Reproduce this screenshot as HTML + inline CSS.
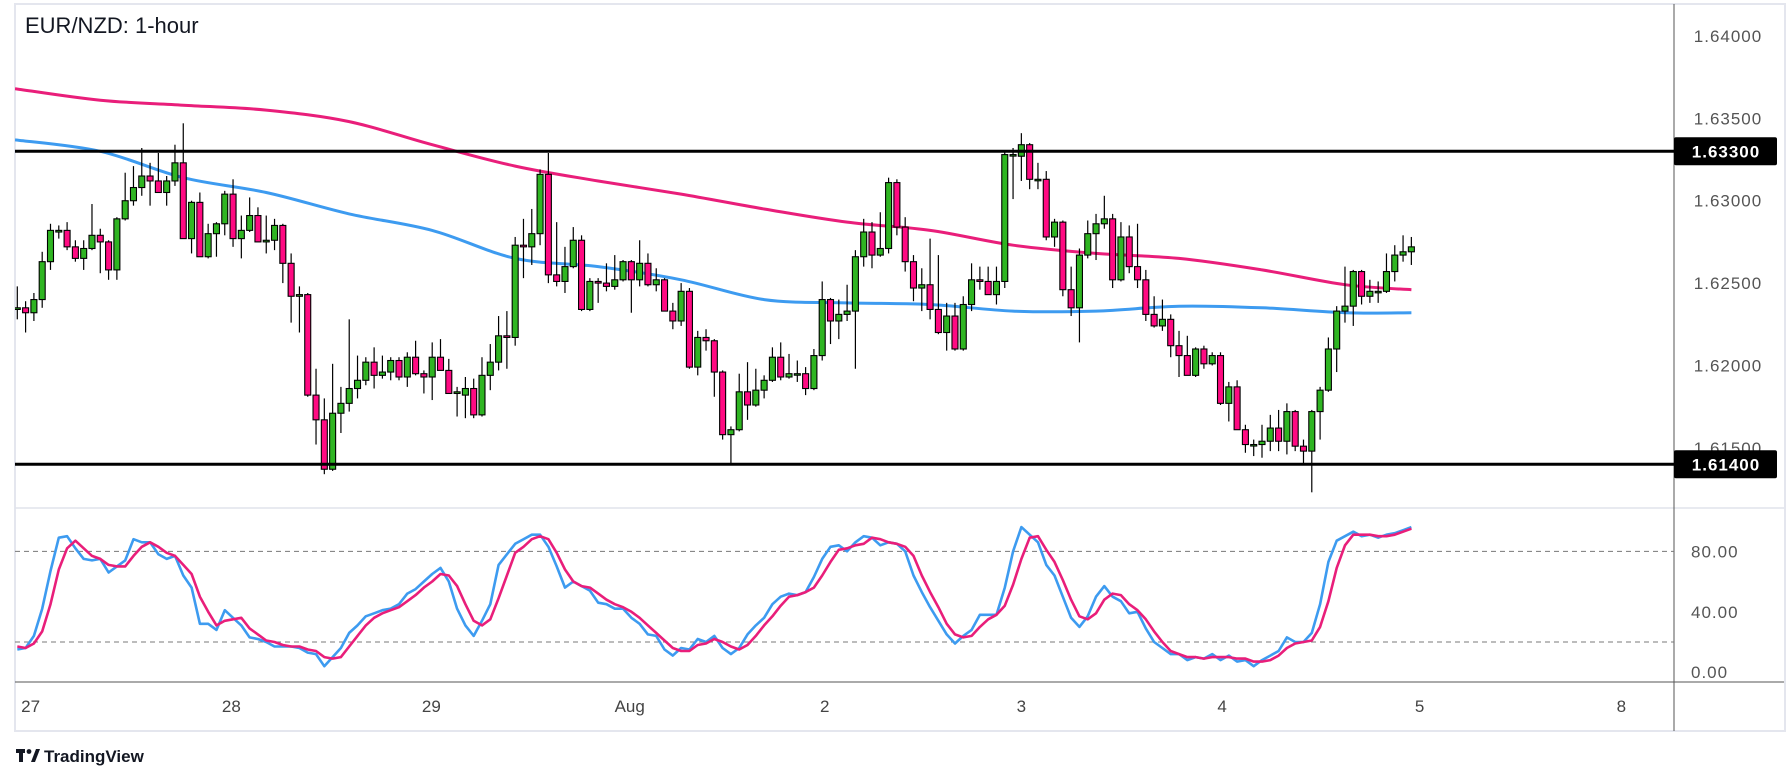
<!DOCTYPE html>
<html><head><meta charset="utf-8"><style>
html,body{margin:0;padding:0;background:#fff;width:1791px;height:783px;overflow:hidden}
svg{display:block;font-family:"Liberation Sans",sans-serif}
</style></head><body>
<svg id="chart" width="1791" height="783" viewBox="0 0 1791 783" xmlns="http://www.w3.org/2000/svg">
<rect x="15" y="4" width="1770" height="727" fill="#fff" stroke="#e4e6ee" stroke-width="2"/>
<line x1="15" y1="508" x2="1674" y2="508" stroke="#e0e3eb" stroke-width="1.5"/>
<line x1="1674" y1="508" x2="1784" y2="508" stroke="#e0e3eb" stroke-width="1.5"/>
<line x1="15" y1="682" x2="1784" y2="682" stroke="#555" stroke-width="1"/>
<line x1="1674" y1="4" x2="1674" y2="731" stroke="#555" stroke-width="1"/>
<defs><clipPath id="pclip"><rect x="15" y="5" width="1659" height="502"/></clipPath><clipPath id="oclip"><rect x="15" y="509" width="1659" height="172"/></clipPath></defs>
<g id="price-pane" clip-path="url(#pclip)"></g>
<g id="osc-pane" clip-path="url(#oclip)"></g>
<g id="axes"></g>
<text x="25" y="33" font-size="22" fill="#131722">EUR/NZD: 1-hour</text>
<g>
<rect x="16" y="749" width="9" height="4" fill="#131722"/><rect x="19" y="749" width="4" height="13" fill="#131722"/>
<circle cx="29" cy="751.5" r="2.4" fill="#131722"/><polygon points="31,762 36,749 40,749 35,762" fill="#131722"/>
<text x="44" y="762" font-size="17" font-weight="bold" fill="#131722">TradingView</text>
</g>
</svg>
<script>
const opens=[1.6234,1.6235,1.6232,1.6240,1.6263,1.6281,1.6282,1.6272,1.6265,1.6271,1.6279,1.6275,1.6258,1.6289,1.6300,1.6308,1.6315,1.6312,1.6305,1.6312,1.6323,1.6277,1.6299,1.6266,1.6280,1.6286,1.6304,1.6277,1.6282,1.6291,1.6275,1.6276,1.6285,1.6262,1.6242,1.6243,1.6182,1.6167,1.6137,1.6171,1.6177,1.6186,1.6191,1.6202,1.6194,1.6196,1.6203,1.6193,1.6205,1.6195,1.6193,1.6205,1.6197,1.6183,1.6182,1.6186,1.6170,1.6194,1.6202,1.6218,1.6217,1.6273,1.6272,1.6280,1.6316,1.6255,1.6251,1.6260,1.6276,1.6234,1.6251,1.6250,1.6248,1.6252,1.6263,1.6252,1.6262,1.6249,1.6252,1.6233,1.6227,1.6245,1.6199,1.6217,1.6215,1.6196,1.6158,1.6161,1.6184,1.6176,1.6185,1.6191,1.6205,1.6193,1.6195,1.6195,1.6186,1.6206,1.6240,1.6227,1.6231,1.6233,1.6266,1.6281,1.6267,1.6271,1.6311,1.6284,1.6263,1.6247,1.6249,1.6234,1.6220,1.6230,1.6210,1.6237,1.6252,1.6251,1.6243,1.6251,1.6328,1.6327,1.6334,1.6313,1.6313,1.6278,1.6287,1.6246,1.6235,1.6267,1.6280,1.6286,1.6289,1.6252,1.6278,1.6260,1.6252,1.6231,1.6224,1.6228,1.6212,1.6206,1.6194,1.6210,1.6201,1.6206,1.6177,1.6187,1.6161,1.6152,1.6152,1.6154,1.6162,1.6154,1.6172,1.6151,1.6148,1.6172,1.6185,1.6210,1.6233,1.6236,1.6257,1.6242,1.6245,1.6245,1.6257,1.6267,1.6269];
const highs=[1.6248,1.6239,1.6244,1.6269,1.6286,1.6285,1.6287,1.6276,1.6276,1.6298,1.6283,1.6276,1.6290,1.6317,1.6321,1.6332,1.6323,1.6329,1.6315,1.6334,1.6347,1.6300,1.6305,1.6286,1.6287,1.6306,1.6313,1.6291,1.6302,1.6296,1.6291,1.6289,1.6286,1.6268,1.6248,1.6244,1.6198,1.6180,1.6201,1.6187,1.6228,1.6206,1.6205,1.6211,1.6206,1.6205,1.6205,1.6208,1.6215,1.6197,1.6214,1.6216,1.6204,1.6187,1.6193,1.6192,1.6205,1.6213,1.6230,1.6233,1.6278,1.6289,1.6295,1.6319,1.6329,1.6287,1.6272,1.6284,1.6279,1.6253,1.6253,1.6262,1.6267,1.6264,1.6264,1.6276,1.6268,1.6259,1.6253,1.6238,1.6250,1.6247,1.6221,1.6222,1.6216,1.6197,1.6163,1.6195,1.6202,1.6198,1.6194,1.6211,1.6214,1.6207,1.6203,1.6199,1.6210,1.6251,1.6241,1.6240,1.6249,1.6270,1.6289,1.6287,1.6293,1.6314,1.6313,1.6290,1.6267,1.6259,1.6277,1.6267,1.6238,1.6238,1.6242,1.6262,1.6260,1.6260,1.6260,1.6330,1.6332,1.6341,1.6335,1.6323,1.6318,1.6289,1.6288,1.6260,1.6271,1.6288,1.6292,1.6303,1.6292,1.6287,1.6285,1.6286,1.6258,1.6242,1.6240,1.6231,1.6221,1.6218,1.6211,1.6212,1.6208,1.6208,1.6190,1.6191,1.6164,1.6155,1.6164,1.6170,1.6173,1.6177,1.6173,1.6155,1.6173,1.6187,1.6217,1.6236,1.6260,1.6258,1.6258,1.6252,1.6251,1.6268,1.6273,1.6279,1.6278];
const lows=[1.6228,1.6220,1.6227,1.6235,1.6258,1.6277,1.6270,1.6263,1.6258,1.6270,1.6256,1.6252,1.6252,1.6288,1.6297,1.6303,1.6297,1.6305,1.6297,1.6309,1.6277,1.6268,1.6266,1.6265,1.6266,1.6279,1.6272,1.6265,1.6281,1.6275,1.6268,1.6270,1.6250,1.6226,1.6220,1.6181,1.6152,1.6134,1.6136,1.6159,1.6172,1.6180,1.6188,1.6186,1.6192,1.6191,1.6191,1.6187,1.6194,1.6183,1.6179,1.6197,1.6183,1.6169,1.6168,1.6168,1.6169,1.6185,1.6197,1.6198,1.6212,1.6253,1.6261,1.6273,1.6250,1.6248,1.6244,1.6259,1.6233,1.6233,1.6238,1.6245,1.6246,1.6251,1.6232,1.6248,1.6248,1.6245,1.6233,1.6222,1.6224,1.6198,1.6194,1.6209,1.6181,1.6155,1.6140,1.6160,1.6167,1.6175,1.6180,1.6190,1.6191,1.6192,1.6190,1.6182,1.6185,1.6203,1.6213,1.6216,1.6227,1.6198,1.6260,1.6259,1.6266,1.6268,1.6279,1.6257,1.6239,1.6233,1.6228,1.6219,1.6209,1.6209,1.6209,1.6233,1.6246,1.6243,1.6237,1.6247,1.6301,1.6312,1.6307,1.6307,1.6276,1.6272,1.6242,1.6230,1.6214,1.6265,1.6264,1.6283,1.6247,1.6251,1.6256,1.6247,1.6227,1.6223,1.6221,1.6205,1.6193,1.6194,1.6193,1.6198,1.6200,1.6176,1.6166,1.6161,1.6147,1.6145,1.6144,1.6148,1.6148,1.6146,1.6148,1.6140,1.6123,1.6155,1.6184,1.6196,1.6226,1.6224,1.6237,1.6238,1.6238,1.6244,1.6251,1.6263,1.6261];
const closes=[1.6235,1.6232,1.6240,1.6263,1.6282,1.6282,1.6272,1.6265,1.6271,1.6279,1.6275,1.6258,1.6289,1.6300,1.6308,1.6315,1.6312,1.6305,1.6312,1.6323,1.6277,1.6299,1.6266,1.6280,1.6286,1.6304,1.6277,1.6282,1.6291,1.6275,1.6276,1.6285,1.6262,1.6242,1.6243,1.6182,1.6167,1.6137,1.6171,1.6177,1.6186,1.6191,1.6202,1.6194,1.6196,1.6203,1.6193,1.6205,1.6195,1.6193,1.6205,1.6197,1.6183,1.6184,1.6186,1.6170,1.6194,1.6202,1.6218,1.6217,1.6273,1.6272,1.6280,1.6316,1.6255,1.6251,1.6260,1.6276,1.6234,1.6251,1.6250,1.6248,1.6252,1.6263,1.6252,1.6262,1.6249,1.6252,1.6233,1.6227,1.6245,1.6199,1.6217,1.6215,1.6196,1.6158,1.6161,1.6184,1.6176,1.6185,1.6191,1.6205,1.6193,1.6195,1.6195,1.6186,1.6206,1.6240,1.6227,1.6231,1.6233,1.6266,1.6281,1.6267,1.6271,1.6311,1.6284,1.6263,1.6247,1.6249,1.6234,1.6220,1.6230,1.6210,1.6237,1.6252,1.6251,1.6243,1.6251,1.6328,1.6328,1.6334,1.6313,1.6313,1.6278,1.6287,1.6246,1.6235,1.6267,1.6280,1.6286,1.6289,1.6252,1.6278,1.6260,1.6252,1.6231,1.6224,1.6228,1.6212,1.6206,1.6194,1.6210,1.6201,1.6206,1.6177,1.6187,1.6161,1.6152,1.6152,1.6154,1.6162,1.6154,1.6172,1.6151,1.6148,1.6172,1.6185,1.6210,1.6233,1.6236,1.6257,1.6242,1.6245,1.6245,1.6257,1.6267,1.6269,1.6272];
const maBars=[0,10,20,30,40,50,60,70,80,90,100,110,120,130,140,150,160,168];
const maSlow=[1.6368,1.6361,1.6358,1.6355,1.6348,1.6334,1.6321,1.6312,1.6304,1.6295,1.6287,1.6282,1.6273,1.6268,1.6265,1.6258,1.6249,1.6246];
const maFast=[1.6337,1.6330,1.6314,1.6305,1.6292,1.6282,1.6265,1.6260,1.6252,1.6240,1.6238,1.6237,1.6233,1.6233,1.6236,1.6235,1.6232,1.6232];
const stochK=[15,16,24,42,67,89,90,82,75,74,75,66,70,74,88,86,86,78,75,77,64,56,32,32,28,41,36,31,23,22,20,17,17,17,16,13,12,4,10,16,26,31,37,39,41,42,45,52,55,60,65,69,60,42,31,24,34,45,71,78,85,88,91,91,83,70,56,60,57,54,46,45,42,42,36,32,25,24,15,11,16,15,22,20,24,16,12,16,25,31,36,45,50,52,51,53,63,75,83,84,80,86,90,89,84,86,85,80,64,53,43,34,25,19,24,28,38,38,38,56,80,96,91,86,71,64,50,36,30,37,50,57,50,47,39,40,29,20,16,12,12,8,10,9,12,8,11,7,8,4,8,11,14,23,20,20,26,45,73,87,90,93,90,91,89,91,92,94,96];
const stochD=[17,16,19,27,45,68,82,87,82,77,75,71,70,70,77,83,86,83,79,77,71,65,50,40,31,34,35,36,29,25,21,20,18,17,17,15,14,10,9,10,17,24,31,36,39,41,43,47,51,56,60,65,64,57,45,34,31,35,49,64,79,83,88,90,88,79,68,60,57,56,52,48,45,43,40,36,31,26,21,16,14,14,18,19,22,20,17,15,18,24,31,37,44,50,51,53,56,64,73,81,82,84,85,89,88,86,85,83,77,64,53,43,32,25,23,24,30,35,38,44,58,75,89,90,81,73,61,48,37,35,39,48,52,51,45,41,35,27,20,14,12,10,10,9,10,10,10,9,9,7,7,8,11,16,19,20,21,30,47,69,84,91,91,91,90,90,91,93,95];
const priceTicks=[1.640,1.635,1.630,1.625,1.620,1.615];
const levels=[1.6330,1.6140];
const oscTicks=[80,40,0];
const oscLevels=[80,20];
const timeLabels=["27","28","29","Aug","2","3","4","5","8"];
const timeLabelBars=[1.6,25.8,49.9,73.8,97.3,121,145.2,169,193.3];

const NS="http://www.w3.org/2000/svg";
function xOf(i){return 17.3+8.298*i;}
function yP(p){return 151.3+(1.633-p)*16474;}
function yO(v){return 672.2-v*1.511;}
function mk(tag,attrs,parent){const e=document.createElementNS(NS,tag);for(const k in attrs)e.setAttribute(k,attrs[k]);parent.appendChild(e);return e;}
const pp=document.getElementById('price-pane');
const op=document.getElementById('osc-pane');
const ax=document.getElementById('axes');

function smoothPath(pts){
  let d='M'+pts[0][0].toFixed(1)+','+pts[0][1].toFixed(1);
  for(let i=0;i<pts.length-1;i++){
    const p0=pts[Math.max(0,i-1)],p1=pts[i],p2=pts[i+1],p3=pts[Math.min(pts.length-1,i+2)];
    const c1x=p1[0]+(p2[0]-p0[0])/6,c1y=p1[1]+(p2[1]-p0[1])/6;
    const c2x=p2[0]-(p3[0]-p1[0])/6,c2y=p2[1]-(p3[1]-p1[1])/6;
    d+='C'+c1x.toFixed(1)+','+c1y.toFixed(1)+' '+c2x.toFixed(1)+','+c2y.toFixed(1)+' '+p2[0].toFixed(1)+','+p2[1].toFixed(1);
  }
  return d;
}
function maLine(vals,color,name){
  const pts=maBars.map((b,k)=>[k===0?15:xOf(b),yP(vals[k])]);
  const e=mk('path',{d:smoothPath(pts),fill:'none',stroke:color,'stroke-width':3,'stroke-linejoin':'round'},pp);
  
  
}
maLine(maSlow,'#e91e7a','slow-moving-average');
maLine(maFast,'#3d9bf0','fast-moving-average');

for(let i=0;i<opens.length;i++){
  const o=opens[i],c=closes[i],h=highs[i],l=lows[i];
  const x=xOf(i);
  const g=mk('g',{},pp);
  
  
  mk('line',{x1:x,x2:x,y1:yP(h),y2:yP(l),stroke:'#000','stroke-width':1.2},g);
  const yt=yP(Math.max(o,c)),yb=yP(Math.min(o,c));
  const hgt=Math.max(yb-yt,1.5);
  mk('rect',{x:x-3,y:yt,width:6,height:hgt,fill:c>=o?'#2fb522':'#ff0a82',stroke:'#000','stroke-width':1.1},g);
}

levels.forEach(v=>{
  const y=yP(v);
  const ln=mk('line',{x1:15,x2:1674,y1:y,y2:y,stroke:'#000','stroke-width':3},ax);
  
  
});

priceTicks.forEach(v=>{
  const t=mk('text',{x:1728,y:yP(v)+6,'font-size':17,fill:'#555','text-anchor':'middle','letter-spacing':'1'},ax);
  t.textContent=v.toFixed(5);
  
  
});
levels.forEach(v=>{
  const y=yP(v);
  const r=mk('rect',{x:1674,y:y-14,width:103,height:28,rx:2,fill:'#000'},ax);
  
  
  const t=mk('text',{x:1726,y:y+6,'font-size':17,'font-weight':'bold',fill:'#fff','text-anchor':'middle','letter-spacing':'1'},ax);
  t.textContent=v.toFixed(5);
  
  
});

oscLevels.forEach(v=>{
  const l=mk('line',{x1:15,x2:1674,y1:yO(v),y2:yO(v),stroke:'#787878','stroke-width':1,'stroke-dasharray':'5,4'},op);
  
  
});
function oscLine(vals,color,name){
  let d='';
  vals.forEach((v,i)=>{d+=(i?'L':'M')+xOf(i).toFixed(1)+','+yO(v).toFixed(1);});
  const e=mk('path',{d:d,fill:'none',stroke:color,'stroke-width':2.6,'stroke-linejoin':'round'},op);
  
  
}
oscLine(stochK,'#3d9bf0','stoch-k-line');
oscLine(stochD,'#e91e7a','stoch-d-line');
oscTicks.forEach(v=>{
  const t=mk('text',{x:1691,y:yO(v)+6,'font-size':17,fill:'#555','letter-spacing':'1'},ax);
  t.textContent=v.toFixed(2);
  
  
});

timeLabels.forEach((s,k)=>{
  const t=mk('text',{x:xOf(timeLabelBars[k]),y:712,'font-size':17,fill:'#444','text-anchor':'middle'},ax);
  t.textContent=s;
  
  
});
</script>
</body></html>
